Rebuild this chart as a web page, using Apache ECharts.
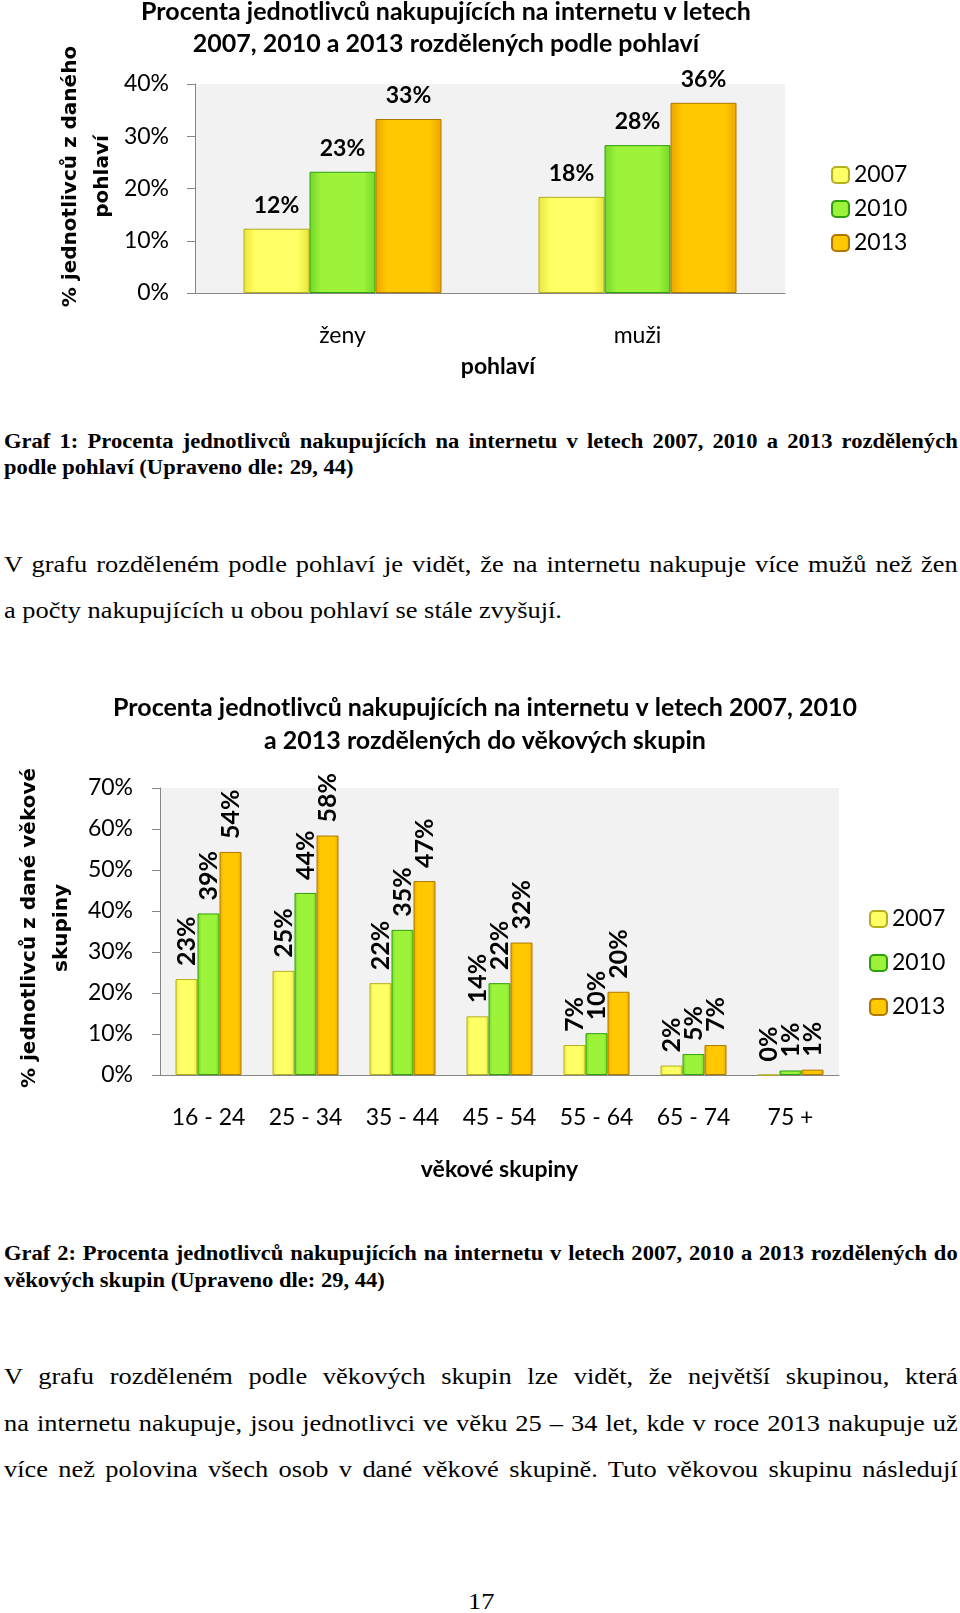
<!DOCTYPE html>
<html>
<head>
<meta charset="utf-8">
<script src="https://cdn.jsdelivr.net/npm/echarts@6/dist/echarts.min.js"></script>
<style>
html,body{margin:0;padding:0;background:#fff;}
body{width:960px;height:1613px;position:relative;overflow:hidden;}
#c1{position:absolute;left:0;top:0;width:960px;height:400px;}
#c2{position:absolute;left:0;top:680px;width:960px;height:520px;}
.ln{position:absolute;left:4px;font-family:"Liberation Serif","Times New Roman",serif;color:#000;transform:scaleX(1.1);transform-origin:0 0;white-space:normal;}
.cap{font-weight:bold;font-size:20.5px;line-height:26px;width:867px;}
.par{font-size:24px;line-height:30px;width:867px;}
.j{text-align:justify;text-align-last:justify;}
</style>
</head>
<body>
<div id="c1"></div>
<div class="ln cap j" style="top:428px">Graf 1: Procenta jednotlivců nakupujících na internetu v letech 2007, 2010 a 2013 rozdělených</div>
<div class="ln cap" style="top:454px">podle pohlaví (Upraveno dle: 29, 44)</div>
<div class="ln par j" style="top:549px">V grafu rozděleném podle pohlaví je vidět, že na internetu nakupuje více mužů než žen</div>
<div class="ln par" style="top:595px">a počty nakupujících u obou pohlaví se stále zvyšují.</div>
<div id="c2"></div>
<div class="ln cap j" style="top:1240px">Graf 2: Procenta jednotlivců nakupujících na internetu v letech 2007, 2010 a 2013 rozdělených do</div>
<div class="ln cap" style="top:1267px">věkových skupin (Upraveno dle: 29, 44)</div>
<div class="ln par j" style="top:1361px">V grafu rozděleném podle věkových skupin lze vidět, že největší skupinou, která</div>
<div class="ln par j" style="top:1408px">na internetu nakupuje, jsou jednotlivci ve věku 25 – 34 let, kde v roce 2013 nakupuje už</div>
<div class="ln par j" style="top:1454px">více než polovina všech osob v dané věkové skupině. Tuto věkovou skupinu následují</div>
<div class="ln par" style="top:1586px;left:468px;width:auto;">17</div>
<script>
// ---- data ----
const years = ['2007', '2010', '2013'];
const sexCategories = ['ženy', 'muži'];
const sex2007 = [12.3, 18.4];
const sex2010 = [23.2, 28.3];
const sex2013 = [33.3, 36.4];

const ageCategories = ['16 - 24', '25 - 34', '35 - 44', '45 - 54', '55 - 64', '65 - 74', '75 +'];
const age2007 = [23.4, 25.4, 22.4, 14.3, 7.3, 2.3, 0];
const age2010 = [39.4, 44.4, 35.4, 22.4, 10.2, 5.1, 1.1];
const age2013 = [54.4, 58.4, 47.3, 32.3, 20.3, 7.3, 1.3];

const title1 = 'Procenta jednotlivců nakupujících na internetu v letech\n2007, 2010 a 2013 rozdělených podle pohlaví';
const title2 = 'Procenta jednotlivců nakupujících na internetu v letech 2007, 2010\na 2013 rozdělených do věkových skupin';
const yName1 = '% jednotlivců z daného\npohlaví';
const yName2 = '% jednotlivců z dané věkové\nskupiny';
const xName1 = 'pohlaví';
const xName2 = 'věkové skupiny';

// ---- styles ----
function grad(edge, mid) {
  return new echarts.graphic.LinearGradient(0, 0, 1, 0, [
    {offset: 0, color: edge}, {offset: 0.18, color: mid},
    {offset: 0.82, color: mid}, {offset: 1, color: edge}
  ]);
}
const barStyles = [
  {color: grad('#E9E53C', '#FFFF66'), borderColor: '#B5AE1E', borderWidth: 1},
  {color: grad('#74D62A', '#9CF33A'), borderColor: '#2FA00C', borderWidth: 1},
  {color: grad('#EBA500', '#FFC800'), borderColor: '#B07800', borderWidth: 1}
];
const FONT = 'Lato, "Open Sans", sans-serif';
const AXC = '#868686';

function baseAxes(cfg) {
  return {
    xAxis: {
      type: 'category', data: cfg.cats,
      axisLine: {lineStyle: {color: AXC, width: 1}},
      axisTick: {length: 8, lineStyle: {color: AXC}},
      axisLabel: {fontFamily: FONT, fontSize: 23, color: '#000', margin: 31},
      name: cfg.xName, nameLocation: 'middle', nameGap: cfg.xNameGap, nameMoveOverlap: false,
      nameTextStyle: {fontFamily: FONT, fontSize: 23, fontWeight: 'bold', color: '#000', padding: cfg.xNamePad}
    },
    yAxis: {
      type: 'value', min: 0, max: cfg.max, interval: 10,
      axisLine: {show: true, lineStyle: {color: AXC, width: 1}},
      axisTick: {show: true, length: 8, lineStyle: {color: AXC}},
      splitLine: {show: false},
      axisLabel: {formatter: '{value}%', fontFamily: FONT, fontSize: 23, color: '#000', margin: cfg.yLabelMargin},
      name: cfg.yName, nameLocation: 'middle', nameRotate: 90, nameGap: cfg.yNameGap, nameMoveOverlap: false,
      nameTextStyle: {fontFamily: '"DejaVu Sans", Verdana, sans-serif', fontWeight: 'bold', fontSize: 20, lineHeight: 32, color: '#000', padding: cfg.yNamePad}
    }
  };
}

// ---- chart 1 ----
const ch1 = echarts.init(document.getElementById('c1'), null, {renderer: 'canvas'});
const sexSeries = [sex2007, sex2010, sex2013];
ch1.setOption(Object.assign({
  animation: false,
  title: {
    text: title1, left: 446, top: -4, textAlign: 'center', padding: 0,
    textStyle: {fontFamily: FONT, fontWeight: 'bold', fontSize: 25, lineHeight: 32, color: '#000'}
  },
  legend: {
    orient: 'vertical', left: 826, top: 158, itemWidth: 17, itemHeight: 16, itemGap: 10,
    textStyle: {fontFamily: FONT, fontSize: 23, lineHeight: 24, color: '#000'}, data: years
  },
  grid: {left: 195, top: 84, width: 590, height: 209, show: true, backgroundColor: '#F2F2F2', borderWidth: 0},
  series: years.map((y, i) => ({
    name: y, type: 'bar', data: sexSeries[i], barWidth: 66, barGap: '0%',
    itemStyle: barStyles[i],
    label: {
      show: true, position: 'top', distance: 12,
      formatter: p => Math.round(p.value) + '%',
      fontFamily: FONT, fontSize: 23, fontWeight: 'bold', color: '#000'
    }
  }))
}, baseAxes({cats: sexCategories, max: 40, xName: xName1, xNameGap: 62, xNamePad: [0, 0, 0, 16], yName: yName1, yNameGap: 76, yLabelMargin: 26, yNamePad: [0, 0, 0, 24]})));

// ---- chart 2 ----
const ch2 = echarts.init(document.getElementById('c2'), null, {renderer: 'canvas'});
const ageSeries = [age2007, age2010, age2013];
ch2.setOption(Object.assign({
  animation: false,
  title: {
    text: title2, left: 485, top: 11, textAlign: 'center', padding: 0,
    textStyle: {fontFamily: FONT, fontWeight: 'bold', fontSize: 25, lineHeight: 33, color: '#000'}
  },
  legend: {
    orient: 'vertical', left: 864, top: 222, itemWidth: 17, itemHeight: 16, itemGap: 20,
    textStyle: {fontFamily: FONT, fontSize: 23, lineHeight: 24, color: '#000'}, data: years
  },
  grid: {left: 160, top: 108, width: 679, height: 287, show: true, backgroundColor: '#F2F2F2', borderWidth: 0},
  series: years.map((y, i) => ({
    name: y, type: 'bar', data: ageSeries[i], barWidth: 22, barGap: '0%',
    itemStyle: barStyles[i],
    label: {
      show: true, position: 'top', distance: 13, rotate: 90, align: 'left', verticalAlign: 'middle',
      formatter: p => Math.round(p.value) + '%',
      fontFamily: FONT, fontSize: 25, fontWeight: 'bold', color: '#000'
    }
  }))
}, baseAxes({cats: ageCategories, max: 70, xName: xName2, xNameGap: 83, xNamePad: [0, 0, 0, 0], yName: yName2, yNameGap: 82, yLabelMargin: 27, yNamePad: [0, 0, 0, 7]})));
</script>
</body>
</html>
